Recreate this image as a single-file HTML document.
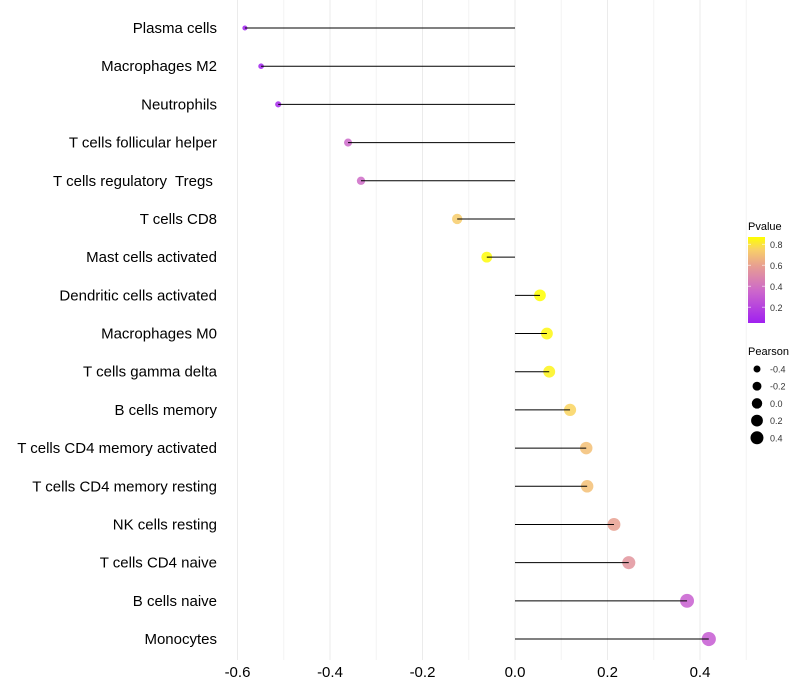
<!DOCTYPE html>
<html><head><meta charset="utf-8"><style>body{margin:0;background:#fff}svg{display:block;font-family:"Liberation Sans",sans-serif}text{white-space:pre}</style></head>
<body>
<svg id="c" width="800" height="700"></svg>
<script>
const categories=["Plasma cells","Macrophages M2","Neutrophils","T cells follicular helper","T cells regulatory  Tregs ","T cells CD8","Mast cells activated","Dendritic cells activated","Macrophages M0","T cells gamma delta","B cells memory","T cells CD4 memory activated","T cells CD4 memory resting","NK cells resting","T cells CD4 naive","B cells naive","Monocytes"];
const pearson=[-0.584,-0.549,-0.512,-0.361,-0.333,-0.125,-0.061,0.054,0.069,0.074,0.119,0.154,0.156,0.214,0.246,0.372,0.419];
const pvalues=[0.05,0.06,0.09,0.36,0.37,0.74,0.86,0.88,0.85,0.84,0.76,0.7,0.7,0.6,0.55,0.32,0.3];
const xTicks=[-0.6,-0.4,-0.2,0.0,0.2,0.4];
const pTicks=[0.2,0.4,0.6,0.8];
const sizeTicks=[-0.4,-0.2,0.0,0.2,0.4];
const NS="http://www.w3.org/2000/svg",svg=document.getElementById('c');
function mk(t,a,p){const e=document.createElementNS(NS,t);for(const k in a)e.setAttribute(k,a[k]);(p||svg).appendChild(e);return e;}
const x=v=>515+462.5*v;
const y=i=>28+i*38.19;
const r=v=>Math.sqrt(Math.max(1,32+44*v));
const stops=[[0.05,[160,32,240]],[0.35,[204,102,204]],[0.6,[232,160,144]],[0.75,[248,208,104]],[0.87,[255,255,0]]];
function col(p){if(p<=stops[0][0])return `rgb(${stops[0][1]})`;for(let i=1;i<stops.length;i++){if(p<=stops[i][0]){const a=stops[i-1],b=stops[i],t=(p-a[0])/(b[0]-a[0]);return 'rgb('+a[1].map((c,j)=>Math.round(c+(b[1][j]-c)*t)).join(',')+')';}}return 'rgb(255,255,0)';}
for(let g=-6;g<=5;g++){const l=mk('line',{x1:x(g/10),x2:x(g/10),y1:0,y2:660,stroke:g%2==0?'#EBEBEB':'#F4F4F4','stroke-width':1});
}
categories.forEach((c,i)=>{
 const t=mk('text',{x:217,y:y(i)+5,'text-anchor':'end','font-size':15,fill:'#000'});t.textContent=c;
 
 const pt=mk('circle',{cx:x(pearson[i]),cy:y(i),r:r(pearson[i]),fill:col(pvalues[i]),'fill-opacity':0.85});
 
 const ln=mk('line',{x1:x(0),x2:x(pearson[i]),y1:y(i),y2:y(i),stroke:'#000','stroke-width':1});
 
});
xTicks.forEach(v=>{const t=mk('text',{x:x(v),y:677,'text-anchor':'middle','font-size':15,fill:'#000'});t.textContent=v.toFixed(1);
 });
const lt=mk('text',{x:748,y:230,'font-size':11});lt.textContent='Pvalue';
const defs=mk('defs',{});const lg=mk('linearGradient',{id:'g',x1:0,y1:1,x2:0,y2:0},defs);
stops.forEach(s=>mk('stop',{offset:(s[0]-0.05)/0.82,'stop-color':`rgb(${s[1]})`},lg));
const bar=mk('rect',{x:748,y:237,width:17,height:86,fill:'url(#g)'});
const py=p=>323-(p-0.05)/0.82*86;
pTicks.forEach(p=>{mk('line',{x1:748,x2:751,y1:py(p),y2:py(p),stroke:'#fff','stroke-opacity':0.6});mk('line',{x1:762,x2:765,y1:py(p),y2:py(p),stroke:'#fff','stroke-opacity':0.6});
 const t=mk('text',{x:770,y:py(p)+3.5,'font-size':9,fill:'#333'});t.textContent=p.toFixed(1);});
const st=mk('text',{x:748,y:355,'font-size':11});st.textContent='Pearson';
sizeTicks.forEach((v,i)=>{const cy=369+i*17.2;const c=mk('circle',{cx:757,cy:cy,r:Math.sqrt(27.25+37.5*v),fill:'#000'});
 const t=mk('text',{x:770,y:cy+3.5,'font-size':9,fill:'#333'});t.textContent=v.toFixed(1);});
</script>
</body></html>
